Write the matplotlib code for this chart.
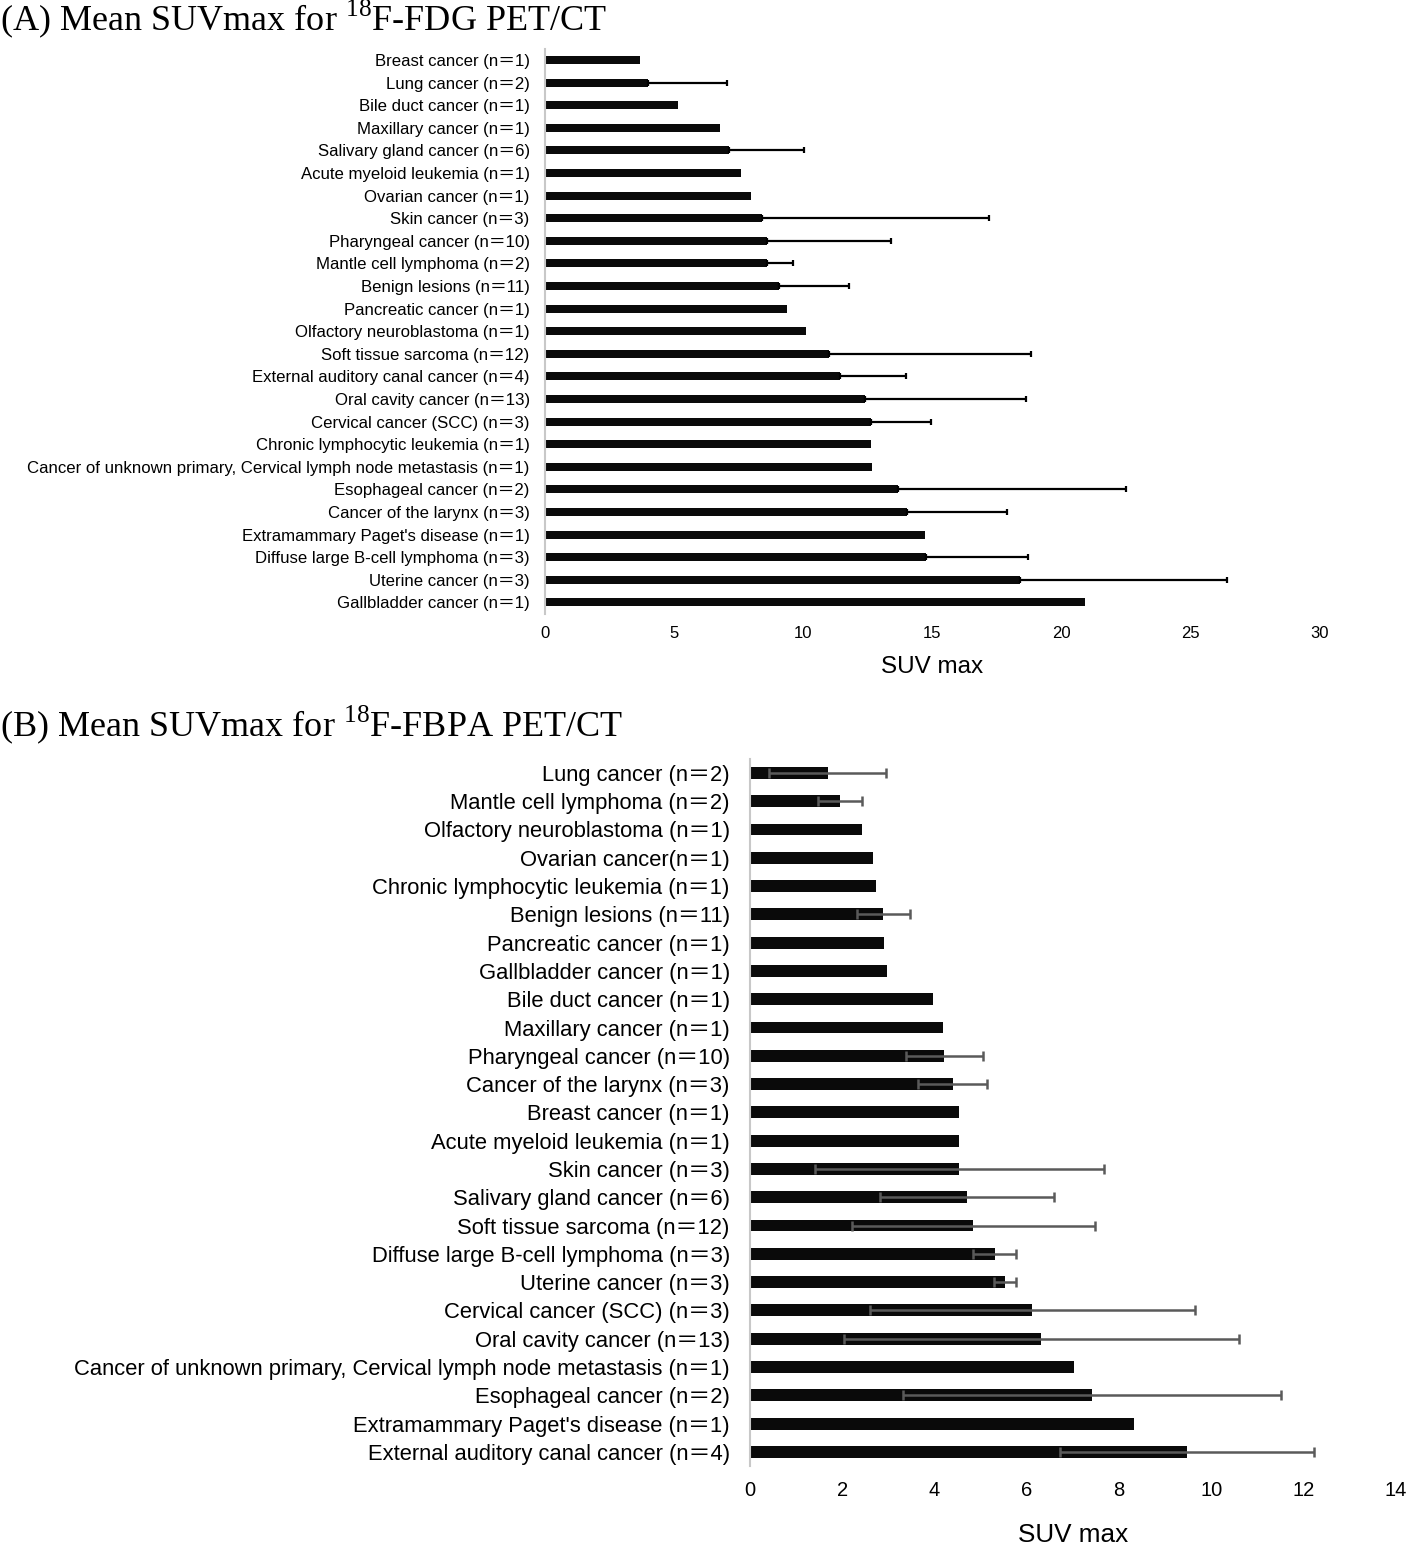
import numpy as np
import matplotlib
matplotlib.use('Agg')
import matplotlib.pyplot as plt

# fonts: Arial-like text, CJK fallback for the full-width equals sign
plt.rcParams['font.family'] = ['Liberation Sans', 'Noto Sans CJK JP']
plt.rcParams['mathtext.fontset'] = 'custom'
plt.rcParams['mathtext.rm'] = 'Liberation Serif'

# ==========================================
# DATA  (panel A: 18F-FDG, panel B: 18F-FBPA), listed top to bottom
# ==========================================
fdg_labels = [
    "Breast cancer (n＝1)",
    "Lung cancer (n＝2)",
    "Bile duct cancer (n＝1)",
    "Maxillary cancer (n＝1)",
    "Salivary gland cancer (n＝6)",
    "Acute myeloid leukemia (n＝1)",
    "Ovarian cancer (n＝1)",
    "Skin cancer (n＝3)",
    "Pharyngeal cancer (n＝10)",
    "Mantle cell lymphoma (n＝2)",
    "Benign lesions (n＝11)",
    "Pancreatic cancer (n＝1)",
    "Olfactory neuroblastoma (n＝1)",
    "Soft tissue sarcoma (n＝12)",
    "External auditory canal cancer (n＝4)",
    "Oral cavity cancer (n＝13)",
    "Cervical cancer (SCC) (n＝3)",
    "Chronic lymphocytic leukemia (n＝1)",
    "Cancer of unknown primary, Cervical lymph node metastasis (n＝1)",
    "Esophageal cancer (n＝2)",
    "Cancer of the larynx (n＝3)",
    "Extramammary Paget's disease (n＝1)",
    "Diffuse large B-cell lymphoma (n＝3)",
    "Uterine cancer (n＝3)",
    "Gallbladder cancer (n＝1)",
]
fdg_mean = [3.68, 3.98, 5.16, 6.79, 7.14, 7.60, 7.99, 8.41, 8.58, 8.58,
            9.06, 9.37, 10.12, 11.01, 11.43, 12.38, 12.61, 12.61, 12.66,
            13.66, 14.01, 14.70, 14.75, 18.38, 20.90]
# upper SD (0 = no error bar)
fdg_sd = [0, 3.08, 0, 0, 2.90, 0, 0, 8.79, 4.81, 1.03,
          2.72, 0, 0, 7.79, 2.55, 6.23, 2.33, 0, 0,
          8.84, 3.87, 0, 3.95, 8.02, 0]

fbpa_labels = [
    "Lung cancer (n＝2)",
    "Mantle cell lymphoma (n＝2)",
    "Olfactory neuroblastoma (n＝1)",
    "Ovarian cancer(n＝1)",
    "Chronic lymphocytic leukemia (n＝1)",
    "Benign lesions (n＝11)",
    "Pancreatic cancer (n＝1)",
    "Gallbladder cancer (n＝1)",
    "Bile duct cancer (n＝1)",
    "Maxillary cancer (n＝1)",
    "Pharyngeal cancer (n＝10)",
    "Cancer of the larynx (n＝3)",
    "Breast cancer (n＝1)",
    "Acute myeloid leukemia (n＝1)",
    "Skin cancer (n＝3)",
    "Salivary gland cancer (n＝6)",
    "Soft tissue sarcoma (n＝12)",
    "Diffuse large B-cell lymphoma (n＝3)",
    "Uterine cancer (n＝3)",
    "Cervical cancer (SCC) (n＝3)",
    "Oral cavity cancer (n＝13)",
    "Cancer of unknown primary, Cervical lymph node metastasis (n＝1)",
    "Esophageal cancer (n＝2)",
    "Extramammary Paget's disease (n＝1)",
    "External auditory canal cancer (n＝4)",
]
fbpa_mean = [1.68, 1.95, 2.43, 2.66, 2.72, 2.89, 2.91, 2.97, 3.96, 4.18,
             4.21, 4.39, 4.54, 4.54, 4.54, 4.70, 4.84, 5.30, 5.52, 6.12,
             6.31, 7.02, 7.41, 8.33, 9.47]
fbpa_sd = [1.27, 0.47, 0, 0, 0, 0.57, 0, 0, 0, 0,
           0.83, 0.75, 0, 0, 3.14, 1.88, 2.64, 0.46, 0.24, 3.52,
           4.28, 0, 4.10, 0, 2.75]

fdg_ticks = [0, 5, 10, 15, 20, 25, 30]
fbpa_ticks = [0, 2, 4, 6, 8, 10, 12, 14]

W, H = 1414, 1545
fig = plt.figure(figsize=(W / 100, H / 100), dpi=100)


def style_axis(ax, ticks, ylab_size, xtick_size, pad_y, pad_x, label_size, labelpad):
    for s in ['top', 'right', 'bottom']:
        ax.spines[s].set_visible(False)
    ax.spines['left'].set_color('#c8c8c8')
    ax.spines['left'].set_linewidth(1.5)
    ax.set_xlim(ticks[0], ticks[-1])
    ax.set_xticks(ticks)
    ax.set_ylim(len(ax.get_yticks()) - 0.5, -0.5)
    ax.tick_params(axis='y', length=0, pad=pad_y, labelsize=ylab_size)
    ax.tick_params(axis='x', length=0, pad=pad_x, labelsize=xtick_size)
    ax.set_xlabel('SUV max', fontsize=label_size, labelpad=labelpad)


# ---------- (A) FDG ----------
axA = fig.add_axes([545 / W, 1 - 613.7 / H, 775 / W, 565 / H])
yA = np.arange(len(fdg_labels))
axA.barh(yA, fdg_mean, height=0.36, color='#0a0a0a', zorder=2)
mA = np.array(fdg_sd) > 0
errA = np.array(fdg_sd)[mA]
axA.errorbar(np.array(fdg_mean)[mA], yA[mA], xerr=[np.zeros_like(errA), errA],
             fmt='none', ecolor='black', elinewidth=1.6, capsize=2.2, capthick=1.6, zorder=3)
axA.set_yticks(yA)
axA.set_yticklabels(fdg_labels)
style_axis(axA, fdg_ticks, 12.1, 12, 11, 8.5, 17.5, 11.5)

# ---------- (B) FBPA ----------
axB = fig.add_axes([750 / W, 1 - 1466 / H, 646 / W, 707.25 / H])
yB = np.arange(len(fbpa_labels))
axB.barh(yB, fbpa_mean, height=0.42, color='#0a0a0a', zorder=2)
mB = np.array(fbpa_sd) > 0
axB.errorbar(np.array(fbpa_mean)[mB], yB[mB], xerr=np.array(fbpa_sd)[mB],
             fmt='none', ecolor='#5a5a5a', elinewidth=1.8, capsize=3.5, capthick=1.8, zorder=3)
axB.set_yticks(yB)
axB.set_yticklabels(fbpa_labels)
style_axis(axB, fbpa_ticks, 15.8, 14.5, 14.5, 11, 18.8, 16)

# panel titles
fig.text(0.0, 1 - 30 / H, '(A) Mean SUVmax for $^{18}$F-FDG PET/CT',
         family='Liberation Serif', fontsize=26, va='baseline', ha='left')
fig.text(0.0, 1 - 736 / H, '(B) Mean SUVmax for $^{18}$F-FBPA PET/CT',
         family='Liberation Serif', fontsize=26, va='baseline', ha='left')

fig.savefig('out.png', dpi=100)
